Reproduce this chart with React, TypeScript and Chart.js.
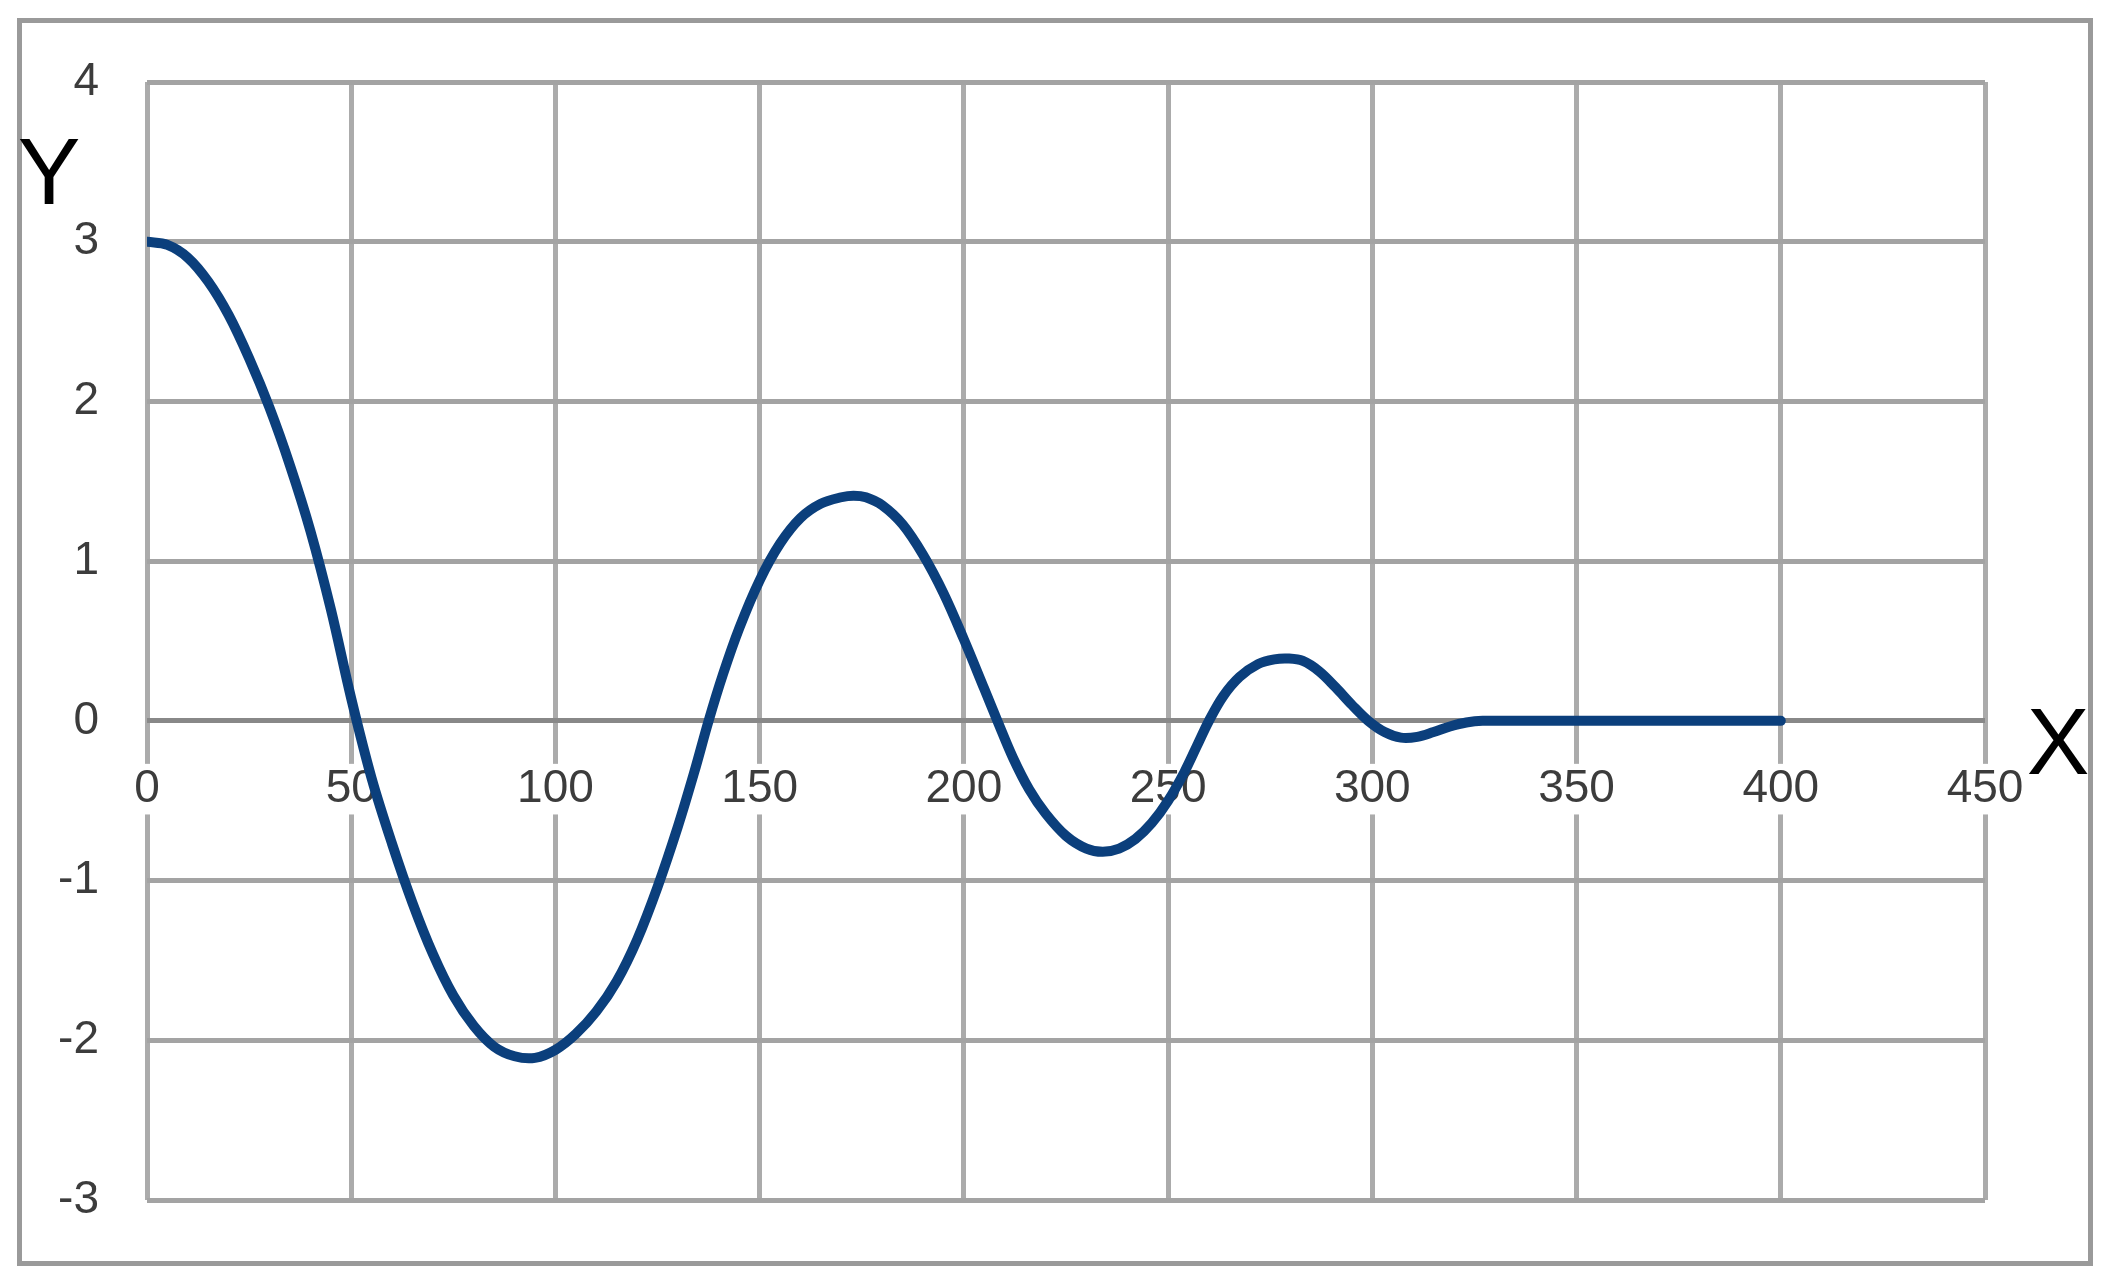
import React, { useEffect, useRef } from "react";
import { Chart, registerables } from "chart.js";

Chart.register(...registerables);

// Curve samples
const xValues = [
  0, 5, 10, 15, 20, 25, 30, 35, 40, 45,
  50, 55, 60, 65, 70, 75, 80, 85, 90, 95,
  100, 105, 110, 115, 120, 125, 130, 134, 137.5, 141,
  145, 150, 155, 160, 165, 170, 173, 176, 180, 185,
  190, 195, 200, 205, 208.2, 212, 216, 220, 225, 230,
  234, 238, 242, 246, 250, 254, 257, 260, 263.5, 267.5,
  272, 276, 279.5, 283, 287, 291, 295, 299, 303, 307,
  311, 315, 319, 323, 327, 350, 375, 400,
];
const yValues = [
  3, 2.98, 2.9, 2.75, 2.54, 2.27, 1.96, 1.6, 1.19, 0.7,
  0.14, -0.36, -0.77, -1.14, -1.46, -1.72, -1.91, -2.04, -2.1, -2.11,
  -2.06, -1.96, -1.82, -1.63, -1.37, -1.04, -0.66, -0.32, 0, 0.29,
  0.58, 0.88, 1.11, 1.27, 1.36, 1.4, 1.41, 1.4, 1.35, 1.23,
  1.04, 0.8, 0.51, 0.2, 0, -0.23, -0.43, -0.58, -0.72, -0.8,
  -0.82, -0.8, -0.74, -0.64, -0.5, -0.32, -0.16, 0, 0.155, 0.275,
  0.355, 0.385, 0.39, 0.375, 0.31, 0.21, 0.1, 0, -0.07, -0.105,
  -0.1, -0.07, -0.035, -0.01, 0, 0, 0, 0,
];

// Axis ranges and tick steps
const xRange = [0, 450];
const xStep = 50;
const yRange = [-3, 4];
const yStep = 1;
const axisNameX = "X";
const axisNameY = "Y";

const FONT = "'Liberation Sans', Arial, sans-serif";

export default function App() {
  const ref = useRef<HTMLCanvasElement>(null);

  useEffect(() => {
    if (!ref.current) return;

    const decor = {
      id: "decor",
      beforeDraw(chart: any) {
        const { ctx } = chart;
        ctx.save();
        ctx.fillStyle = "#ffffff";
        ctx.fillRect(0, 0, chart.width, chart.height);
        ctx.strokeStyle = "#9a9a9a";
        ctx.lineWidth = 5;
        ctx.strokeRect(19.5, 20.5, chart.width - 46, chart.height - 39);
        ctx.restore();
      },
      afterDraw(chart: any) {
        const { ctx } = chart;
        ctx.save();
        ctx.fillStyle = "#000000";
        ctx.font = `94px ${FONT}`;
        ctx.textAlign = "center";
        ctx.textBaseline = "middle";
        ctx.fillText(axisNameY, 49, 178);
        ctx.fillText(axisNameX, 2058, 748);
        ctx.restore();
      },
    };

    const chart = new Chart(ref.current, {
      type: "line",
      data: {
        datasets: [
          {
            data: xValues.map((x, i) => ({ x, y: yValues[i] })),
            borderColor: "#0b3f7c",
            borderWidth: 10,
            pointRadius: 0,
            fill: false,
            tension: 0.35,
            borderCapStyle: "round",
            borderJoinStyle: "round",
          },
        ],
      },
      options: {
        responsive: false,
        animation: false,
        layout: { padding: { left: 0, top: 82, right: 132, bottom: 82 } },
        plugins: { legend: { display: false }, tooltip: { enabled: false } },
        scales: {
          x: {
            type: "linear",
            position: { y: 0 } as any,
            min: xRange[0],
            max: xRange[1],
            ticks: {
              stepSize: xStep,
              padding: 43,
              color: "#3c3c3c",
              font: { family: FONT, size: 46, lineHeight: 1.1 },
              showLabelBackdrop: true,
              backdropColor: "#ffffff",
              backdropPadding: { left: 4, right: 4, top: 0, bottom: 0 },
              maxRotation: 0,
              autoSkip: false,
            } as any,
            grid: { color: "#ababab", lineWidth: 5, drawTicks: false },
            border: { display: false },
          },
          y: {
            type: "linear",
            position: "left",
            min: yRange[0],
            max: yRange[1],
            afterFit: (s: any) => {
              s.width = 147;
            },
            ticks: {
              stepSize: yStep,
              padding: 48,
              color: "#3c3c3c",
              font: { family: FONT, size: 46, lineHeight: 1.1 },
            },
            grid: {
              color: (c: any) => (c.tick && c.tick.value === 0 ? "#888888" : "#a3a3a3"),
              lineWidth: 5,
              drawTicks: false,
            },
            border: { display: false },
          },
        },
      },
      plugins: [decor],
    });

    return () => chart.destroy();
  }, []);

  return (
    <canvas
      ref={ref}
      width={2117}
      height={1282}
      style={{ display: "block", position: "fixed", left: 0, top: 0 }}
    />
  );
}
